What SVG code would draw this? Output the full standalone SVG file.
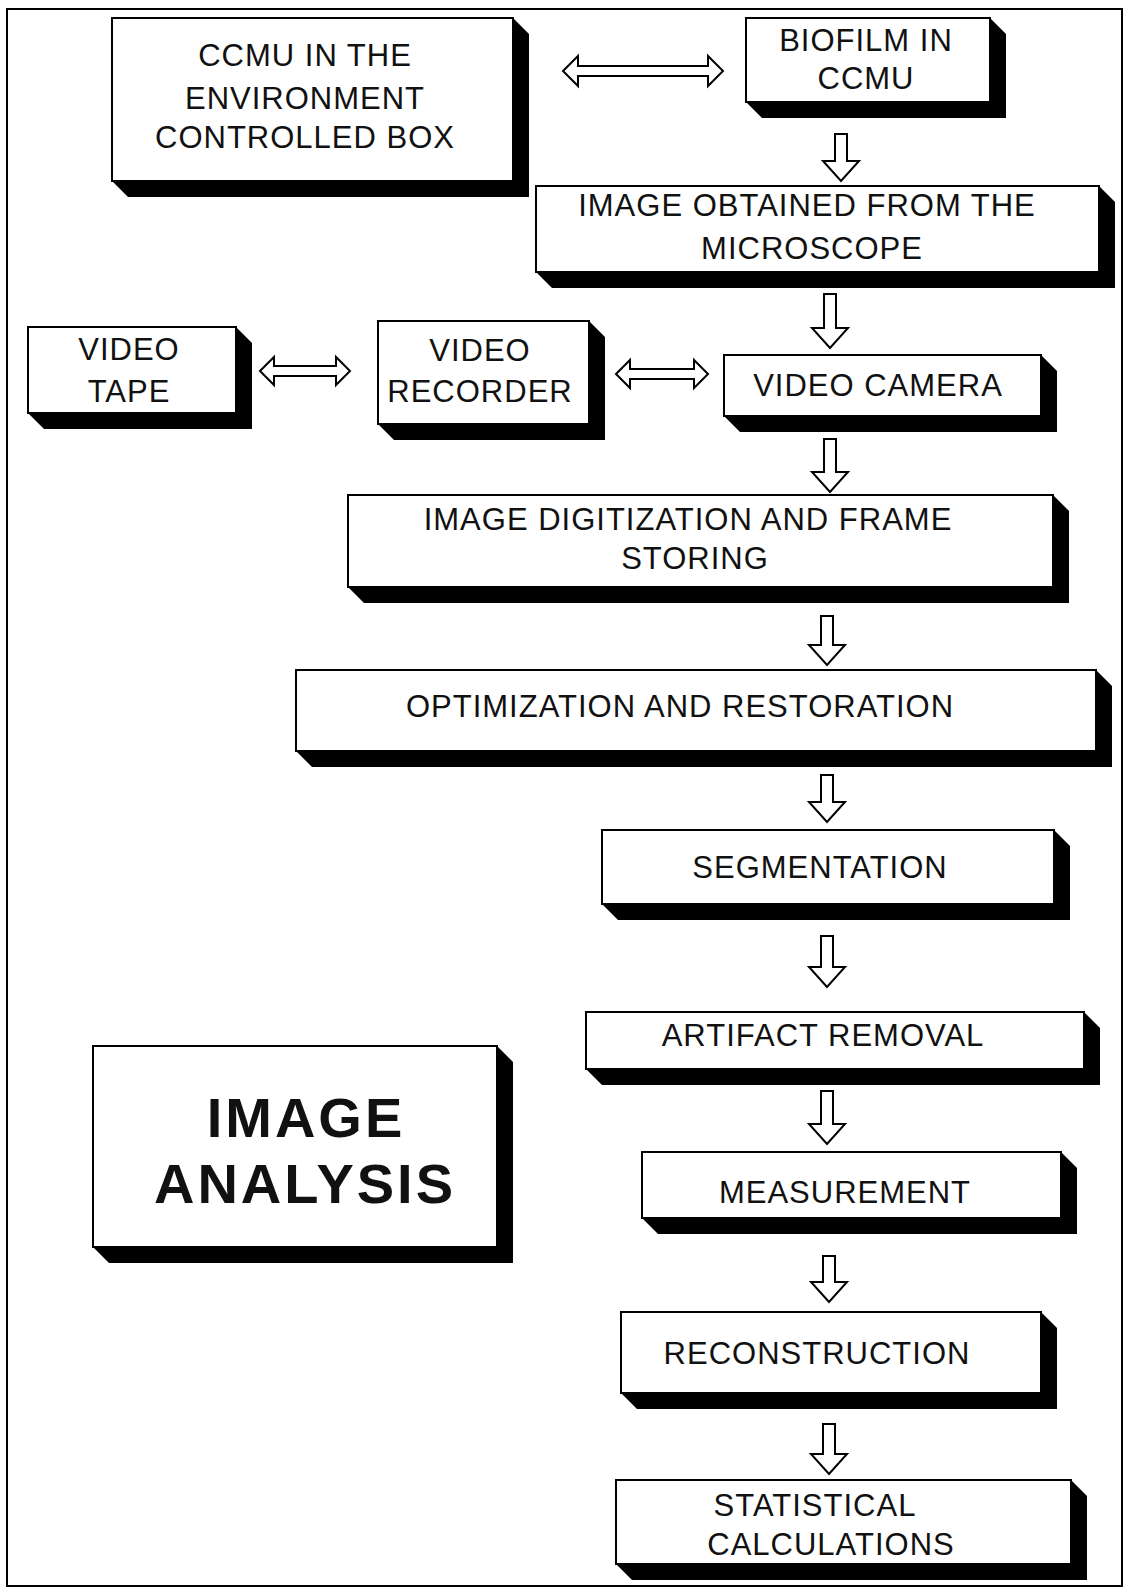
<svg xmlns="http://www.w3.org/2000/svg" width="1133" height="1592" viewBox="0 0 1133 1592">
<style>
.box{fill:#fff;stroke:#000;stroke-width:2}
.sh{fill:#000}
.t{font-family:"Liberation Sans",Arial,sans-serif;font-size:31px;letter-spacing:1px;fill:#111;text-anchor:middle}
.big{font-family:"Liberation Sans",Arial,sans-serif;font-size:56px;font-weight:bold;letter-spacing:3px;fill:#111;text-anchor:middle}
.ar{fill:#fff;stroke:#000;stroke-width:2;stroke-linejoin:miter}
.frame{fill:#fff;stroke:#000;stroke-width:2}
</style>
<rect x="0" y="0" width="1133" height="1592" fill="#fff"/>
<rect class="frame" x="7" y="9" width="1115" height="1577"/>

<g id="n-ccmu">
<polygon class="sh" points="513,18 529,34 529,197 128,197 112,181"/>
<rect class="box" x="112" y="18" width="401" height="163"/>
<text class="t" x="305" y="66">CCMU IN THE</text>
<text class="t" x="305" y="109">ENVIRONMENT</text>
<text class="t" x="305" y="148">CONTROLLED BOX</text>
</g>

<g id="n-biofilm">
<polygon class="sh" points="990,18 1006,34 1006,118 762,118 746,102"/>
<rect class="box" x="746" y="18" width="244" height="84"/>
<text class="t" x="866" y="51">BIOFILM IN</text>
<text class="t" x="866" y="89">CCMU</text>
</g>

<g id="n-image">
<polygon class="sh" points="1099,186 1115,202 1115,288 552,288 536,272"/>
<rect class="box" x="536" y="186" width="563" height="86"/>
<text class="t" x="807" y="216">IMAGE OBTAINED FROM THE</text>
<text class="t" x="812" y="259">MICROSCOPE</text>
</g>

<g id="n-tape">
<polygon class="sh" points="236,327 252,343 252,429 44,429 28,413"/>
<rect class="box" x="28" y="327" width="208" height="86"/>
<text class="t" x="129" y="360">VIDEO</text>
<text class="t" x="129" y="402">TAPE</text>
</g>

<g id="n-recorder">
<polygon class="sh" points="589,321 605,337 605,440 394,440 378,424"/>
<rect class="box" x="378" y="321" width="211" height="103"/>
<text class="t" x="480" y="361">VIDEO</text>
<text class="t" x="480" y="402">RECORDER</text>
</g>

<g id="n-camera">
<polygon class="sh" points="1041,355 1057,371 1057,432 740,432 724,416"/>
<rect class="box" x="724" y="355" width="317" height="61"/>
<text class="t" x="878" y="396">VIDEO CAMERA</text>
</g>

<g id="n-digit">
<polygon class="sh" points="1053,495 1069,511 1069,603 364,603 348,587"/>
<rect class="box" x="348" y="495" width="705" height="92"/>
<text class="t" x="688" y="530">IMAGE DIGITIZATION AND FRAME</text>
<text class="t" x="695" y="569">STORING</text>
</g>

<g id="n-optim">
<polygon class="sh" points="1096,670 1112,686 1112,767 312,767 296,751"/>
<rect class="box" x="296" y="670" width="800" height="81"/>
<text class="t" x="680" y="717">OPTIMIZATION AND RESTORATION</text>
</g>

<g id="n-segm">
<polygon class="sh" points="1054,830 1070,846 1070,920 618,920 602,904"/>
<rect class="box" x="602" y="830" width="452" height="74"/>
<text class="t" x="820" y="878">SEGMENTATION</text>
</g>

<g id="n-artifact">
<polygon class="sh" points="1084,1012 1100,1028 1100,1085 602,1085 586,1069"/>
<rect class="box" x="586" y="1012" width="498" height="57"/>
<text class="t" x="823" y="1046">ARTIFACT REMOVAL</text>
</g>

<g id="n-meas">
<polygon class="sh" points="1061,1152 1077,1168 1077,1234 658,1234 642,1218"/>
<rect class="box" x="642" y="1152" width="419" height="66"/>
<text class="t" x="845" y="1203">MEASUREMENT</text>
</g>

<g id="n-recon">
<polygon class="sh" points="1041,1312 1057,1328 1057,1409 637,1409 621,1393"/>
<rect class="box" x="621" y="1312" width="420" height="81"/>
<text class="t" x="817" y="1364">RECONSTRUCTION</text>
</g>

<g id="n-stat">
<polygon class="sh" points="1071,1480 1087,1496 1087,1580 632,1580 616,1564"/>
<rect class="box" x="616" y="1480" width="455" height="84"/>
<text class="t" x="815" y="1516">STATISTICAL</text>
<text class="t" x="831" y="1555">CALCULATIONS</text>
</g>

<g id="n-analysis">
<polygon class="sh" points="497,1046 513,1062 513,1263 109,1263 93,1247"/>
<rect class="box" x="93" y="1046" width="404" height="201"/>
<text class="big" x="306" y="1137">IMAGE</text>
<text class="big" x="305" y="1203">ANALYSIS</text>
</g>

<g id="connectors">
<path class="ar" d="M563,71 L578,56 L578,66 L708,66 L708,56 L723,71 L708,86 L708,76 L578,76 L578,86 Z"/>
<path class="ar" d="M260,371 L274,357 L274,366 L336,366 L336,357 L350,371 L336,385 L336,376 L274,376 L274,385 Z"/>
<path class="ar" d="M616,374 L630,360 L630,369 L694,369 L694,360 L708,374 L694,388 L694,379 L630,379 L630,388 Z"/>

<path class="ar" d="M835,134 L847,134 L847,161 L859,161 L841,181 L823,161 L835,161 Z"/>
<path class="ar" d="M824,294 L836,294 L836,328 L848,328 L830,348 L812,328 L824,328 Z"/>
<path class="ar" d="M824,439 L836,439 L836,472 L848,472 L830,492 L812,472 L824,472 Z"/>
<path class="ar" d="M821,616 L833,616 L833,645 L845,645 L827,665 L809,645 L821,645 Z"/>
<path class="ar" d="M821,775 L833,775 L833,802 L845,802 L827,822 L809,802 L821,802 Z"/>
<path class="ar" d="M821,936 L833,936 L833,967 L845,967 L827,987 L809,967 L821,967 Z"/>
<path class="ar" d="M821,1091 L833,1091 L833,1124 L845,1124 L827,1144 L809,1124 L821,1124 Z"/>
<path class="ar" d="M823,1256 L835,1256 L835,1282 L847,1282 L829,1302 L811,1282 L823,1282 Z"/>
<path class="ar" d="M823,1424 L835,1424 L835,1454 L847,1454 L829,1474 L811,1454 L823,1454 Z"/>
</g>
</svg>
